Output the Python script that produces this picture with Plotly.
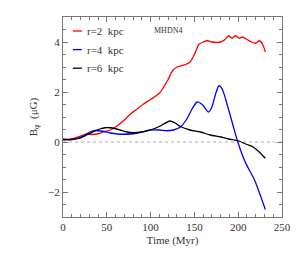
import plotly.graph_objects as go

t_r2 = [0, 10, 20, 27, 33, 40, 46, 54, 62, 70, 78, 84, 92, 100, 110, 120, 125, 130, 140, 145, 150, 155, 160, 165, 170, 180, 185, 189, 193, 197, 201, 205, 210, 215, 220, 224, 228, 231]
b_r2 = [0.1, 0.12, 0.24, 0.32, 0.3, 0.33, 0.4, 0.48, 0.65, 0.88, 1.15, 1.3, 1.52, 1.7, 1.95, 2.5, 2.85, 3.0, 3.1, 3.2, 3.5, 3.9, 4.0, 4.05, 4.0, 4.0, 4.1, 4.25, 4.15, 4.25, 4.15, 4.2, 4.1, 4.0, 3.95, 4.05, 3.9, 3.6]

t_r4 = [0, 10, 17, 25, 31, 37, 45, 54, 62, 68, 80, 88, 99, 110, 118, 126, 134, 141, 147, 153, 159, 166, 170, 174, 178, 182, 189, 195, 200, 208, 219, 231]
b_r4 = [0.1, 0.1, 0.15, 0.28, 0.4, 0.46, 0.43, 0.36, 0.32, 0.31, 0.33, 0.38, 0.48, 0.48, 0.45, 0.48, 0.6, 0.9, 1.3, 1.6, 1.5, 1.2, 1.4, 1.9, 2.25, 2.1, 1.3, 0.55, -0.05, -0.8, -1.55, -2.7]

t_r6 = [0, 10, 18, 27, 35, 42, 48, 54, 60, 65, 72, 80, 90, 99, 110, 122, 128, 134, 145, 157, 168, 180, 189, 200, 210, 217, 224, 231]
b_r6 = [0.1, 0.1, 0.14, 0.28, 0.42, 0.52, 0.57, 0.57, 0.53, 0.48, 0.41, 0.37, 0.4, 0.47, 0.62, 0.84, 0.76, 0.62, 0.48, 0.4, 0.28, 0.2, 0.12, 0.05, -0.1, -0.2, -0.4, -0.65]

labels = ["r=2  kpc", "r=4  kpc", "r=6  kpc"]
colors = ["#ff0000", "#0000ff", "#000000"]
series = list(zip(labels, [t_r2, t_r4, t_r6], [b_r2, b_r4, b_r6], colors))

font = "Liberation Serif, DejaVu Serif, serif"
txt = "#333333"
axc = "#777777"
fig = go.Figure()
for name, t, b, c in series:
    fig.add_trace(go.Scatter(x=t, y=b, mode="lines", name=name, showlegend=False,
                             line=dict(color=c, width=1.3, shape="spline", smoothing=0.6)))

fig.add_shape(type="line", xref="paper", x0=0, x1=1, yref="y", y0=0, y1=0,
              line=dict(color="#999999", width=0.8, dash="dot"), layer="below")

# legend drawn as short line samples + labels
for i, (name, c) in enumerate(zip(labels, colors)):
    yp = 0.93 - i * 0.093
    fig.add_shape(type="line", xref="paper", yref="paper", x0=0.045, x1=0.086, y0=yp, y1=yp,
                  line=dict(color=c, width=1.3))
    fig.add_annotation(text=name, x=0.1, y=yp, xref="paper", yref="paper",
                       xanchor="left", yanchor="middle", showarrow=False,
                       font=dict(family=font, size=11, color=txt))

fig.add_annotation(text="MHDN4", x=0.405, y=0.93, xref="paper", yref="paper",
                   xanchor="left", yanchor="middle", showarrow=False,
                   font=dict(family=font, size=8, color=txt))

axis_common = dict(showgrid=False, zeroline=False, showline=True, linecolor=axc,
                   linewidth=1, mirror="allticks", ticks="inside", ticklen=5,
                   tickcolor=axc, automargin=False,
                   tickfont=dict(family=font, size=11, color=txt))

fig.update_xaxes(range=[0, 250], tick0=0, dtick=50,
                 minor=dict(dtick=10, ticks="inside", ticklen=3, tickcolor=axc),
                 title=dict(text="Time (Myr)", font=dict(family=font, size=11, color=txt), standoff=4),
                 **axis_common)
fig.update_yaxes(range=[-3, 5], tick0=0, dtick=2,
                 minor=dict(dtick=0.5, ticks="inside", ticklen=3, tickcolor=axc),
                 title=dict(text="B<sub>φ</sub>  (μG)", font=dict(family=font, size=11, color=txt), standoff=8),
                 **axis_common)

# page body has an 8px default margin, so offset the figure accordingly
fig.update_layout(width=291, height=246, margin=dict(l=55, r=17, t=9, b=37),
                  plot_bgcolor="white", paper_bgcolor="white", showlegend=False)

fig.write_html("out.html")
